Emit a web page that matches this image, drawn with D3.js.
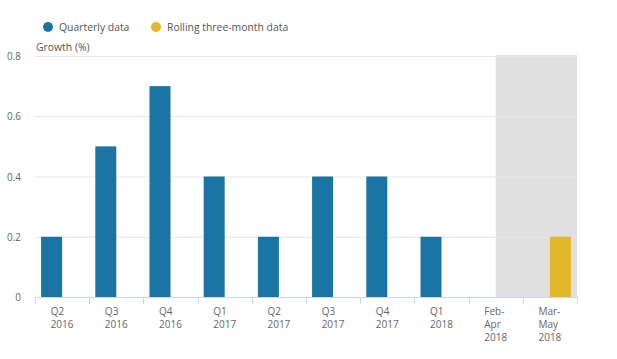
<!DOCTYPE html>
<html><head><meta charset="utf-8">
<script src="https://cdn.jsdelivr.net/npm/d3@7"></script>
<style>body{margin:0;background:#fff;font-family:"Open Sans",sans-serif;}</style>
</head><body><svg id="c" width="617" height="359"></svg>
<script>
const categories = [["Q2","2016"],["Q3","2016"],["Q4","2016"],["Q1","2017"],["Q2","2017"],["Q3","2017"],["Q4","2017"],["Q1","2018"],["Feb-","Apr","2018"],["Mar-","May","2018"]];
const quarterly = [0.2,0.5,0.7,0.4,0.2,0.4,0.4,0.2,null,null];
const rolling = [null,null,null,null,null,null,null,null,null,0.2];
const seriesNames = ["Quarterly data","Rolling three-month data"];
const colors = ["#1a75a5","#e3b72b"];
const yTicks = [0,0.2,0.4,0.6,0.8];

const svg = d3.select("#c");
const L=35,R=577,T=56,B=297;
const keys = categories.map((c,i)=>i);
const x0 = d3.scaleBand().domain(keys).range([L,R]).padding(0);
const x1 = d3.scaleBand().domain([0,1]).range([0,x0.bandwidth()]).paddingInner(0).paddingOuter(0.29);
const y = d3.scaleLinear().domain([0,0.8]).range([B,T]);

// shaded region
svg.append("rect").attr("x",x0(8)+x0.bandwidth()/2).attr("y",y(0.8)-1)
  .attr("width",R-(x0(8)+x0.bandwidth()/2)).attr("height",y(0)-y(0.8)+1).attr("fill","#e0e0e0");

// gridlines
svg.append("g").selectAll("line").data(yTicks.filter(d=>d>0)).join("line")
  .attr("x1",L).attr("x2",R).attr("y1",d=>y(d)+0.5).attr("y2",d=>y(d)+0.5)
  .attr("stroke","#e6e6e6").attr("stroke-width",1);

// y labels
svg.append("g").selectAll("text").data(yTicks).join("text")
  .attr("x",21).attr("y",d=>y(d)+4).attr("text-anchor","end")
  .attr("font-size",10).attr("fill","#666").text(d=>d===0?"0":d.toFixed(1));

svg.append("text").attr("x",36).attr("y",51).attr("font-size",10.4).attr("fill","#555").text("Growth (%)");

// bars
const series=[quarterly,rolling];
series.forEach((s,si)=>{
  svg.append("g").selectAll("rect").data(s.map((v,i)=>({v,i})).filter(d=>d.v!=null)).join("rect")
    .attr("x",d=>x0(d.i)+x1(si)).attr("width",x1.bandwidth())
    .attr("y",d=>y(d.v)).attr("height",d=>y(0)-y(d.v)).attr("fill",colors[si]);
});

// x axis
const ax = svg.append("g");
ax.append("line").attr("x1",L).attr("x2",R).attr("y1",B+0.5).attr("y2",B+0.5).attr("stroke","#ccd6eb");
ax.selectAll("line.t").data(d3.range(categories.length+1)).join("line").attr("class","t")
  .attr("x1",i=>Math.round(L+i*x0.step())+0.5).attr("x2",i=>Math.round(L+i*x0.step())+0.5)
  .attr("y1",B).attr("y2",B+7).attr("stroke","#ccd6eb");
categories.forEach((c,i)=>{
  const t = ax.append("text").attr("font-size",10).attr("fill","#666");
  c.forEach((line,j)=>t.append("tspan").attr("y",B+18+j*13).text(line));
  let mw=0; t.selectAll("tspan").each(function(){mw=Math.max(mw,this.getComputedTextLength());});
  const cx = x0(i)+x0.bandwidth()/2;
  t.selectAll("tspan").attr("x",cx-mw/2);
});

// legend
const lg = svg.append("g");
const lx=[48,156];
seriesNames.forEach((n,i)=>{
  lg.append("circle").attr("cx",lx[i]).attr("cy",27).attr("r",5).attr("fill",colors[i]);
  lg.append("text").attr("x",lx[i]+11).attr("y",31).attr("font-size",10.4).attr("fill","#555").text(n);
});
</script></body></html>
